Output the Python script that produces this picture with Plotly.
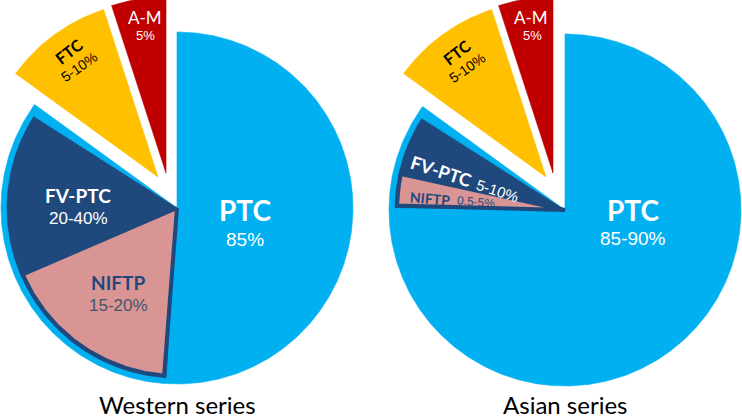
import numpy as np
import plotly.graph_objects as go

# ---------------- data ----------------
categories = ["PTC", "FTC", "A-M"]
western_values = [85, 10, 5]          # % of circle
asian_values = [85, 10, 5]
western_value_labels = ["85%", "5-10%", "5%"]
asian_value_labels = ["85-90%", "5-10%", "5%"]

sub_categories = ["FV-PTC", "NIFTP"]  # sub-wedges drawn inside PTC
western_sub_values = [15.5, 17.5]     # % of circle
asian_sub_values = [5.6, 3.2]
western_sub_labels = ["20-40%", "15-20%"]
asian_sub_labels = ["5-10%", "0.5-5%"]

series_titles = ["Western series", "Asian series"]

# ---------------- geometry / style ----------------
W, H = 742, 418
R_MAIN = 176
R_SUB = 170
SUB_GAP_DEG = 3.5
PIES = [
    dict(center=(177, 208), explode={"FTC": (-19, -31), "A-M": (-11, -35)}),
    dict(center=(565, 210), explode={"FTC": (-19, -33), "A-M": (-12, -37)}),
]
COLORS = {"PTC": "#00B0F0", "FTC": "#FFC000", "A-M": "#C00000",
          "FV-PTC": "#1F497D", "NIFTP": "#D99594"}
NAVY = "#1F497D"
BOLD_FONT = "Lato, 'Open Sans', sans-serif"
NARROW_FONT = "'Liberation Sans Narrow', 'Arial Narrow', 'Liberation Sans', sans-serif"
TITLE_FONT = "Lato, 'Open Sans', sans-serif"


def wedge(cx, cy, r, a0, a1):
    n = max(int(abs(a1 - a0) * 2), 8)
    t = np.radians(np.linspace(a0, a1, n))
    xs = np.concatenate([[cx], cx + r * np.sin(t), [cx]])
    ys = np.concatenate([[cy], cy - r * np.cos(t), [cy]])
    return xs, ys


fig = go.Figure()


def add_wedge(xs, ys, color, name, line_color=None, line_width=0.6):
    fig.add_trace(go.Scatter(
        x=xs, y=ys, mode="lines", fill="toself", fillcolor=color,
        line=dict(color=line_color or color, width=line_width),
        hoverinfo="text", text=name, showlegend=False))


all_values = [western_values, asian_values]
all_sub = [western_sub_values, asian_sub_values]

for pie, vals, subs in zip(PIES, all_values, all_sub):
    cx, cy = pie["center"]
    start = 0.0
    ptc_end = None
    for cat, v in zip(categories, vals):
        a0, a1 = start, start + v * 3.6
        dx, dy = pie["explode"].get(cat, (0, 0))
        xs, ys = wedge(cx + dx, cy + dy, R_MAIN, a0, a1)
        add_wedge(xs, ys, COLORS[cat], cat)
        if cat == "PTC":
            ptc_end = a1
        start = a1
    # sub wedges (FV-PTC incl. NIFTP, then NIFTP) inside the PTC slice
    fv, nif = subs
    s_end = ptc_end - SUB_GAP_DEG
    s_start = s_end - (fv + nif) * 3.6
    xs, ys = wedge(cx, cy, R_SUB, s_start, s_end)
    add_wedge(xs, ys, COLORS["FV-PTC"], "FV-PTC")
    xs, ys = wedge(cx, cy, R_SUB - 2, s_start + 0.7, s_start + nif * 3.6)
    add_wedge(xs, ys, COLORS["NIFTP"], "NIFTP", line_color=NAVY, line_width=4)

# ---------------- labels ----------------
annotations = []


def label(x, y, text, size, color, font, angle=0):
    annotations.append(dict(x=x, y=y, xref="x", yref="y", text=text, showarrow=False,
                            font=dict(size=size, color=color, family=font),
                            textangle=angle, xanchor="center", yanchor="middle"))


# Western
label(245, 210, "<b>%s</b>" % categories[0], 28, "white", BOLD_FONT)
label(245, 239, western_value_labels[0], 19, "white", NARROW_FONT)
label(68, 51, "<b>%s</b>" % categories[1], 16, "black", BOLD_FONT, -38)
label(79, 67, western_value_labels[1], 14, "black", NARROW_FONT, -35)
label(145, 17, categories[2], 17, "white", BOLD_FONT)
label(145, 35, western_value_labels[2], 13, "white", NARROW_FONT)
label(78, 195, "<b>%s</b>" % sub_categories[0], 19, "white", BOLD_FONT)
label(78, 218, western_sub_labels[0], 17, "white", NARROW_FONT)
label(118, 282, "<b>%s</b>" % sub_categories[1], 19, NAVY, BOLD_FONT)
label(118, 305, western_sub_labels[1], 17, "#44546A", NARROW_FONT)

# Asian
label(633, 210, "<b>%s</b>" % categories[0], 28, "white", BOLD_FONT)
label(633, 238, asian_value_labels[0], 19, "white", NARROW_FONT)
label(456, 52, "<b>%s</b>" % categories[1], 16, "black", BOLD_FONT, -38)
label(467, 68, asian_value_labels[1], 14, "black", NARROW_FONT, -35)
label(531, 17, categories[2], 17, "white", BOLD_FONT)
label(532, 35, asian_value_labels[2], 13, "white", NARROW_FONT)
label(441, 171, "<b>%s</b>" % sub_categories[0], 18, "white", BOLD_FONT, 18)
label(497, 190, asian_sub_labels[0], 15, "white", NARROW_FONT, 18)
label(430, 198, "<b>%s</b>" % sub_categories[1], 14, NAVY, BOLD_FONT, 5)
label(476, 202, asian_sub_labels[1], 12, NAVY, NARROW_FONT, 5)

# series titles
for pie, t in zip(PIES, series_titles):
    label(pie["center"][0], 404, t, 24, "black", TITLE_FONT)

fig.update_layout(
    width=W, height=H, margin=dict(l=0, r=0, t=0, b=0),
    paper_bgcolor="white", plot_bgcolor="white", showlegend=False,
    xaxis=dict(range=[0, W], visible=False, fixedrange=True),
    yaxis=dict(range=[H, 0], visible=False, fixedrange=True),
    annotations=annotations,
)

fig.write_html("out.html", config={"displayModeBar": False},
               post_script="document.body.style.margin='0px';document.body.style.overflow='hidden';")
